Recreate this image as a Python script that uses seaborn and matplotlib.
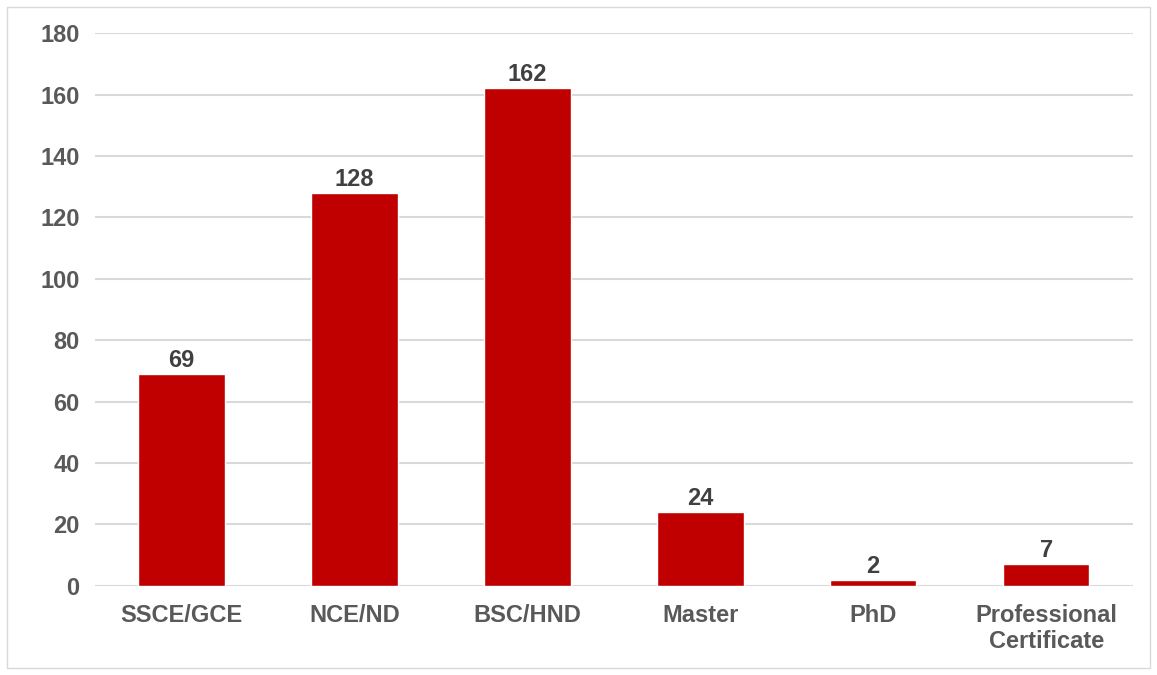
import matplotlib
matplotlib.use("Agg")
import matplotlib.pyplot as plt
import seaborn as sns
import pandas as pd
from matplotlib.patches import Rectangle

categories = ["SSCE/GCE", "NCE/ND", "BSC/HND", "Master", "PhD", "Professional\nCertificate"]
counts = [69, 128, 162, 24, 2, 7]
yticks = [0, 20, 40, 60, 80, 100, 120, 140, 160, 180]

sns.set_theme(style="white")
plt.rcParams["font.family"] = ["Liberation Sans", "DejaVu Sans"]

df = pd.DataFrame({"level": categories, "count": counts})

fig = plt.figure(figsize=(11.57, 6.75), dpi=100)
ax = fig.add_axes([0.082, 0.132, 0.897, 0.819])

sns.barplot(data=df, x="level", y="count", color="#C00000", saturation=1,
            width=0.5, ax=ax, zorder=3)

ax.set_ylim(0, 180)
ax.set_xlim(-0.5, len(categories) - 0.5)
ax.set_yticks(yticks)
ax.yaxis.grid(True, color="#D9D9D9", linewidth=1.5, zorder=0)
ax.set_axisbelow(True)
for s in ax.spines.values():
    s.set_visible(False)
ax.tick_params(axis="both", length=0)
ax.tick_params(axis="y", pad=11)
ax.tick_params(axis="x", pad=13)
ax.set_xlabel("")
ax.set_ylabel("")
for lbl in ax.get_yticklabels():
    lbl.set_fontsize(17)
    lbl.set_fontweight("bold")
    lbl.set_color("#595959")
for lbl in ax.get_xticklabels():
    lbl.set_fontsize(17)
    lbl.set_fontweight("bold")
    lbl.set_color("#595959")
    lbl.set_linespacing(1.15)

for container in ax.containers:
    ax.bar_label(container, labels=[str(v) for v in counts], padding=1.5,
                 fontsize=17, fontweight="bold", color="#404040")

# thin frame around the whole chart area
fig.patches.append(Rectangle((7 / 1157, 7 / 675), 1143 / 1157, 661 / 675,
                             transform=fig.transFigure, fill=False,
                             edgecolor="#D9D9D9", linewidth=1))

fig.savefig("out.png", dpi=100)
